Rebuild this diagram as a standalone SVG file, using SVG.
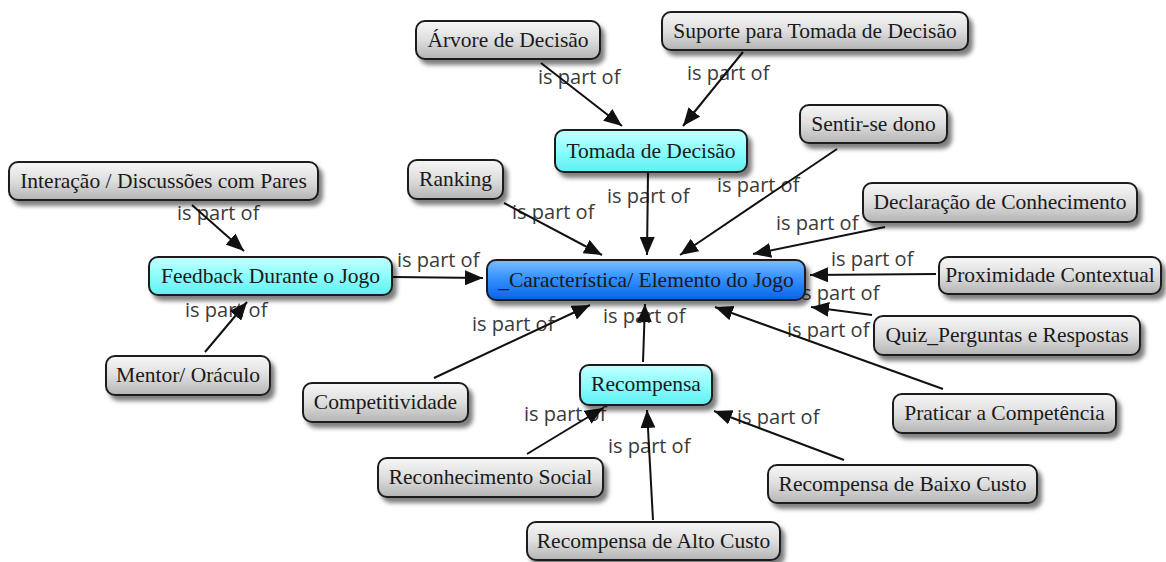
<svg xmlns="http://www.w3.org/2000/svg" width="1166" height="562" viewBox="0 0 1166 562">
  <style>
    .node rect { stroke: #1e1e1e; stroke-width: 2; filter: url(#shadow); }
    .gray rect { fill: url(#gGray); }
    .cyan rect { fill: url(#gCyan); }
    .main rect { fill: url(#gBlue); }
    .node text { font-family: "Liberation Serif", "Times New Roman", serif; font-size: 21.5px; fill: #1a1a1a; text-anchor: middle; }
    .lbl { font-family: "Open Sans", "Liberation Sans", sans-serif; font-size: 20px; fill: #3a3a3a; }
    .edge { stroke: #111; stroke-width: 2; fill: none; marker-end: url(#arrow); }
  </style>
  <defs>
    <linearGradient id="gGray" x1="0" y1="0" x2="0" y2="1">
      <stop offset="0" stop-color="#f7f7f7"/>
      <stop offset="0.5" stop-color="#dedede"/>
      <stop offset="1" stop-color="#b4b4b4"/>
    </linearGradient>
    <linearGradient id="gCyan" x1="0" y1="0" x2="0" y2="1">
      <stop offset="0" stop-color="#c4ffff"/>
      <stop offset="0.5" stop-color="#8dfdfd"/>
      <stop offset="1" stop-color="#5ef0f0"/>
    </linearGradient>
    <linearGradient id="gBlue" x1="0" y1="0" x2="0" y2="1">
      <stop offset="0" stop-color="#7dbdff"/>
      <stop offset="0.45" stop-color="#3592ff"/>
      <stop offset="1" stop-color="#0a62e6"/>
    </linearGradient>
    <filter id="shadow" x="-10%" y="-20%" width="125%" height="160%">
      <feDropShadow dx="4" dy="5" stdDeviation="2.2" flood-color="#000" flood-opacity="0.5"/>
    </filter>
    <marker id="arrow" markerUnits="userSpaceOnUse" markerWidth="19" markerHeight="15" refX="18" refY="7.5" orient="auto">
      <path d="M0,0 L18,7.5 L0,15 Z" fill="#111"/>
    </marker>
  </defs>

  <!-- relation labels -->
  <g id="labels">
    <text class="lbl" x="538" y="84">is part of</text>
    <text class="lbl" x="687" y="80">is part of</text>
    <text class="lbl" x="177" y="220">is part of</text>
    <text class="lbl" x="512" y="219">is part of</text>
    <text class="lbl" x="607" y="203">is part of</text>
    <text class="lbl" x="717" y="192">is part of</text>
    <text class="lbl" x="776" y="230">is part of</text>
    <text class="lbl" x="397" y="267">is part of</text>
    <text class="lbl" x="831" y="266">is part of</text>
    <text class="lbl" x="797" y="300">is part of</text>
    <text class="lbl" x="787" y="337">is part of</text>
    <text class="lbl" x="472" y="331">is part of</text>
    <text class="lbl" x="603" y="323">is part of</text>
    <text class="lbl" x="185" y="317">is part of</text>
    <text class="lbl" x="524" y="421">is part of</text>
    <text class="lbl" x="608" y="453">is part of</text>
    <text class="lbl" x="737" y="424">is part of</text>
  </g>

  <!-- connectors -->
  <g id="connectors">
    <line class="edge" x1="541" y1="63" x2="622" y2="126"/>
    <line class="edge" x1="743" y1="52" x2="683" y2="126"/>
    <line class="edge" x1="192" y1="205" x2="244" y2="251"/>
    <line class="edge" x1="504" y1="203" x2="602" y2="255"/>
    <line class="edge" x1="648" y1="173" x2="647" y2="255"/>
    <line class="edge" x1="837" y1="149" x2="680" y2="255"/>
    <line class="edge" x1="885" y1="227" x2="753" y2="254"/>
    <line class="edge" x1="393" y1="277" x2="483" y2="278"/>
    <line class="edge" x1="936" y1="274" x2="810" y2="275"/>
    <line class="edge" x1="872" y1="315" x2="811" y2="307"/>
    <line class="edge" x1="943" y1="389" x2="715" y2="307"/>
    <line class="edge" x1="434" y1="378" x2="590" y2="305"/>
    <line class="edge" x1="643" y1="362" x2="645" y2="304"/>
    <line class="edge" x1="205" y1="352" x2="247" y2="302"/>
    <line class="edge" x1="527" y1="454" x2="603" y2="408"/>
    <line class="edge" x1="653" y1="520" x2="647" y2="410"/>
    <line class="edge" x1="844" y1="460" x2="714" y2="411"/>
  </g>

  <!-- concepts -->
  <g id="arvore" class="node gray"><rect x="416" y="21" width="184" height="38" rx="9"/><text x="508" y="47">Árvore de Decisão</text></g>
  <g id="suporte" class="node gray"><rect x="662" y="12" width="306" height="38" rx="9"/><text x="815" y="38">Suporte para Tomada de Decisão</text></g>
  <g id="tomada" class="node cyan"><rect x="555" y="130" width="192" height="42" rx="9"/><text x="651" y="158">Tomada de Decisão</text></g>
  <g id="sentir" class="node gray"><rect x="800" y="105" width="147" height="38" rx="9"/><text x="873.5" y="131">Sentir-se dono</text></g>
  <g id="interacao" class="node gray"><rect x="9" y="162" width="309" height="38" rx="9"/><text x="163.5" y="188">Interação / Discussões com Pares</text></g>
  <g id="ranking" class="node gray"><rect x="408" y="160" width="95" height="39" rx="9"/><text x="455.5" y="186">Ranking</text></g>
  <g id="declaracao" class="node gray"><rect x="863" y="183" width="274" height="39" rx="9"/><text x="1000" y="209">Declaração de Conhecimento</text></g>
  <g id="feedback" class="node cyan"><rect x="149" y="257" width="243" height="38" rx="9"/><text x="270.5" y="283">Feedback Durante o Jogo</text></g>
  <g id="caracteristica" class="node main"><rect x="487" y="260" width="318" height="40" rx="9"/><text x="646" y="287">_Característica/ Elemento do Jogo</text></g>
  <g id="proximidade" class="node gray"><rect x="939" y="257" width="222" height="37" rx="9"/><text x="1050" y="282">Proximidade Contextual</text></g>
  <g id="quiz" class="node gray"><rect x="874" y="316" width="266" height="39" rx="9"/><text x="1007" y="342">Quiz_Perguntas e Respostas</text></g>
  <g id="mentor" class="node gray"><rect x="106" y="356" width="164" height="39" rx="9"/><text x="188" y="382">Mentor/ Oráculo</text></g>
  <g id="competitividade" class="node gray"><rect x="303" y="383" width="165" height="39" rx="9"/><text x="385.5" y="409">Competitividade</text></g>
  <g id="recompensa" class="node cyan"><rect x="580" y="365" width="132" height="40" rx="9"/><text x="646" y="391">Recompensa</text></g>
  <g id="praticar" class="node gray"><rect x="893" y="394" width="223" height="39" rx="9"/><text x="1004.5" y="420">Praticar a Competência</text></g>
  <g id="reconhecimento" class="node gray"><rect x="378" y="458" width="225" height="39" rx="9"/><text x="490.5" y="484">Reconhecimento Social</text></g>
  <g id="baixo" class="node gray"><rect x="768" y="465" width="269" height="38" rx="9"/><text x="902.5" y="491">Recompensa de Baixo Custo</text></g>
  <g id="alto" class="node gray"><rect x="527" y="522" width="253" height="38" rx="9"/><text x="653.5" y="548">Recompensa de Alto Custo</text></g>
</svg>
